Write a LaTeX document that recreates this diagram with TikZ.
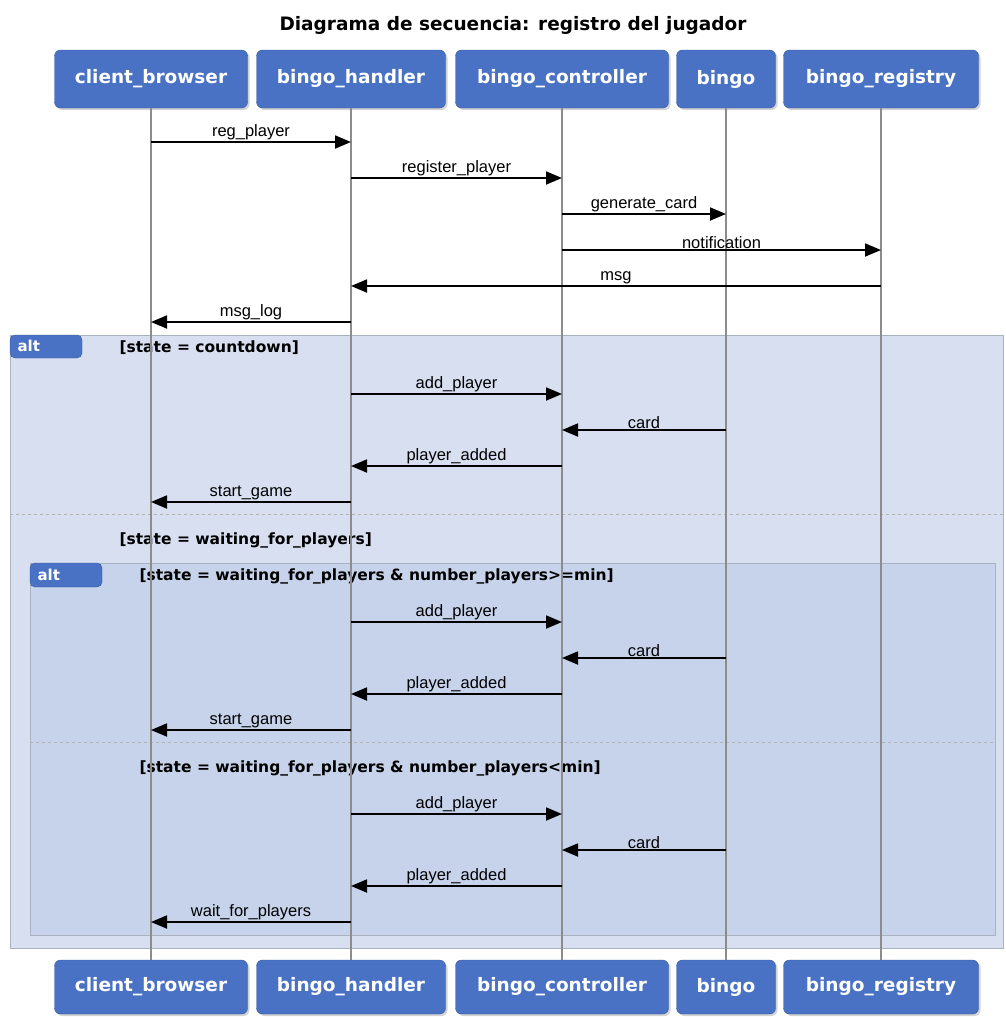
\documentclass[tikz,border=0pt]{standalone}
\usepackage{fontspec}
\setmainfont{DejaVu Sans}
\newfontfamily\msgfont{Liberation Sans}
\usepackage{tikz}
\usetikzlibrary{arrows.meta,positioning,shadows}
\definecolor{actorblue}{RGB}{74,114,196}
\definecolor{actorline}{RGB}{55,88,155}
\definecolor{altouter}{RGB}{215,223,240}
\definecolor{altinner}{RGB}{198,211,235}
\definecolor{framegray}{RGB}{170,178,192}

\begin{document}
\begin{tikzpicture}[x=1pt,y=-1pt]
\tikzset{actor/.style={
    draw=actorline, fill=actorblue, rounded corners=6pt,
    text=white, font=\bfseries\fontsize{18.5}{20}\selectfont,
    minimum height=#1, inner sep=0pt,
    drop shadow={opacity=0.35, shadow xshift=2pt, shadow yshift=-2pt}
  },
  actor/.default=58pt,
  lifeline/.style={draw=black!45, line width=1.5pt},
  msgline/.style={line width=1.8pt, -{Triangle[length=16pt,width=13pt]}},
  msglabel/.style={above, inner sep=0.8pt, font=\msgfont\fontsize{16.5}{18}\selectfont},
  altframe/.style={draw=framegray, line width=1pt},
  alttag/.style={fill=actorblue, draw=actorline, rounded corners=5pt},
  tagtext/.style={text=white, font=\bfseries\fontsize{15}{17}\selectfont, anchor=west},
  guard/.style={font=\bfseries\fontsize{15.5}{17}\selectfont, anchor=west},
  separator/.style={draw=black!30, dashed, line width=0.8pt}
}
\useasboundingbox (0,0) rectangle (1006,1017);

\node[font=\bfseries\fontsize{18.5}{20}\selectfont] (title) at (513,25) {Diagrama de secuencia: registro del jugador};

% participants (top)
\node[actor, minimum width=193pt] (cb) at (151,79) {client\_browser};
\node[actor, minimum width=189pt] (bh) at (351,79) {bingo\_handler};
\node[actor, minimum width=213pt] (bc) at (562,79) {bingo\_controller};
\node[actor, minimum width=99pt]  (bg) at (726,79) {bingo};
\node[actor, minimum width=195pt] (br) at (881,79) {bingo\_registry};

% participants (bottom)
\node[actor=54pt, minimum width=193pt] (cbB) at (151,987) {client\_browser};
\node[actor=54pt, minimum width=189pt] (bhB) at (351,987) {bingo\_handler};
\node[actor=54pt, minimum width=213pt] (bcB) at (562,987) {bingo\_controller};
\node[actor=54pt, minimum width=99pt]  (bgB) at (726,987) {bingo};
\node[actor=54pt, minimum width=195pt] (brB) at (881,987) {bingo\_registry};

% alt frames
\draw[altframe, fill=altouter] (10,335) rectangle (1003,948);
\draw[alttag] (10,335) -- (82,335) -- (82,358) -- (10,358) -- cycle;
\node[tagtext] (alt1) at (14,346) {alt};
\node[guard] (g1) at (116,348) {[state = countdown]};
\draw[separator] (10,514) -- (1003,514);
\node[guard] (g2) at (116,540) {[state = waiting\_for\_players]};

\draw[altframe, fill=altinner] (30,563) rectangle (995,935);
\draw[alttag] (30,563) -- (102,563) -- (102,587) -- (30,587) -- cycle;
\node[tagtext] (alt2) at (34,575) {alt};
\node[guard] (g3) at (136,576) {[state = waiting\_for\_players \& number\_players>=min]};
\draw[separator] (30,742) -- (995,742);
\node[guard] (g4) at (136,768) {[state = waiting\_for\_players \& number\_players<min]};

% lifelines
\foreach \p in {cb,bh,bc,bg,br}
  \draw[lifeline] (\p.south) -- (\p B.north);

% messages
\foreach \s/\t/\y/\lbl in {
    cb/bh/142/reg\_player,
    bh/bc/178/register\_player,
    bc/bg/214/generate\_card,
    bc/br/250/notification,
    br/bh/286/msg,
    bh/cb/322/msg\_log,
    bh/bc/394/add\_player,
    bg/bc/430/card,
    bc/bh/466/player\_added,
    bh/cb/502/start\_game,
    bh/bc/622/add\_player,
    bg/bc/658/card,
    bc/bh/694/player\_added,
    bh/cb/730/start\_game,
    bh/bc/814/add\_player,
    bg/bc/850/card,
    bc/bh/886/player\_added,
    bh/cb/922/wait\_for\_players}
  \draw[msgline] (\s |- 0,\y) -- node[msglabel] {\lbl} (\t |- 0,\y);

\end{tikzpicture}
\end{document}
